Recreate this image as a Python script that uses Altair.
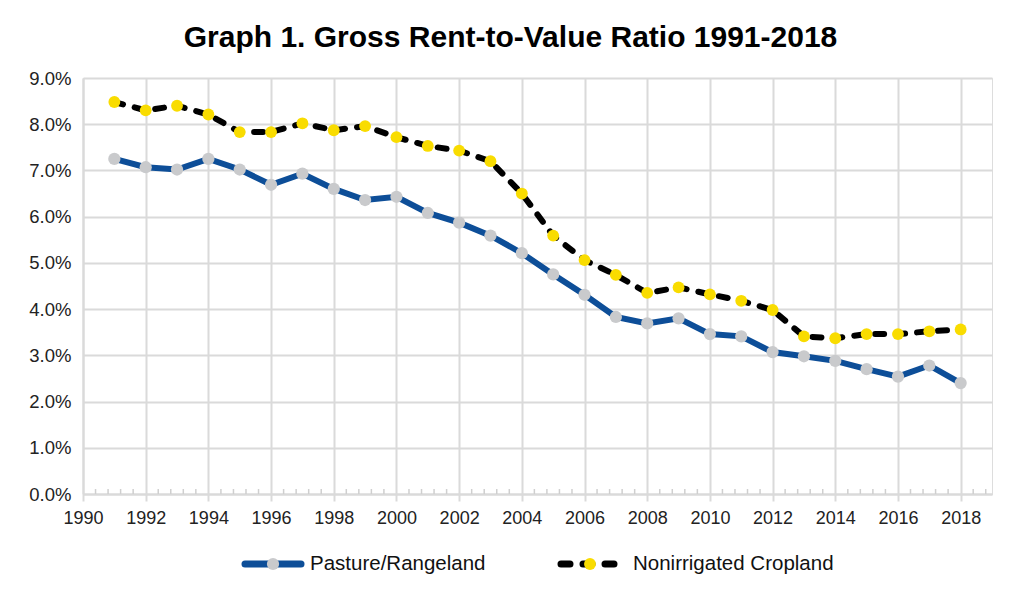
import altair as alt
import pandas as pd

# ---- data ----
years = list(range(1991, 2019))
pasture = [7.25, 7.07, 7.02, 7.25, 7.02, 6.69, 6.93, 6.60, 6.36, 6.43,
           6.08, 5.87, 5.59, 5.21, 4.75, 4.31, 3.83, 3.69, 3.80, 3.46,
           3.41, 3.07, 2.98, 2.88, 2.70, 2.54, 2.78, 2.40]
cropland = [8.48, 8.30, 8.40, 8.21, 7.83, 7.83, 8.02, 7.87, 7.96, 7.72,
            7.53, 7.43, 7.20, 6.50, 5.59, 5.06, 4.74, 4.35, 4.47, 4.32,
            4.18, 3.98, 3.41, 3.37, 3.46, 3.46, 3.52, 3.56]
series_names = ["Pasture/Rangeland", "Nonirrigated Cropland"]
x_ticks = list(range(1990, 2019, 2))
y_ticks = [0, 1, 2, 3, 4, 5, 6, 7, 8, 9]
minor_x = [1990 + 0.4 * i for i in range(73) if i % 5 != 0]

# ---- styles ----
BLUE = "#0d4e98"
GRAY_PT = "#c9cacc"
YELLOW = "#f9dc00"
GRID = "#dadada"
FONT = "Liberation Sans"
W, H = 909, 416

df = pd.DataFrame({
    "year": years * 2,
    "value": [v / 100 for v in pasture + cropland],
    "series": [series_names[0]] * len(years) + [series_names[1]] * len(years),
})
minor_df = pd.DataFrame({"year": minor_x})

x_scale = alt.Scale(domain=[1990, 2019], nice=False, zero=False)
y_scale = alt.Scale(domain=[0, 0.09], nice=False)

x_enc = alt.X("year:Q", scale=x_scale, title=None,
              axis=alt.Axis(values=x_ticks, format="d", grid=True, gridColor=GRID,
                            gridWidth=2, domainColor=GRID, domainWidth=2,
                            tickColor=GRID, tickWidth=2, tickSize=7,
                            labelPadding=8, labelFontSize=18, labelColor="#222",
                            labelFont=FONT, labelFlush=False))
y_enc = alt.Y("value:Q", scale=y_scale, title=None,
              axis=alt.Axis(values=[t / 100 for t in y_ticks], format=".1%",
                            grid=True, gridColor=GRID, gridWidth=2,
                            domainColor=GRID, domainWidth=2, ticks=False,
                            labelPadding=12, labelFontSize=18.5, labelColor="#222",
                            labelFont=FONT))

base = alt.Chart(df)

grid_layer = base.mark_line(opacity=0).encode(x=x_enc, y=y_enc)

minor = alt.Chart(minor_df).mark_rule(color="#cfcfcf", strokeWidth=1.5).encode(
    x=alt.X("year:Q", scale=x_scale),
    y=alt.value(H - 5), y2=alt.value(H))

p_df = base.transform_filter(alt.datum.series == series_names[0])
c_df = base.transform_filter(alt.datum.series == series_names[1])

p_line = p_df.mark_line(color=BLUE, strokeWidth=6).encode(
    x=alt.X("year:Q", scale=x_scale), y=alt.Y("value:Q", scale=y_scale))
p_pts = p_df.mark_circle(color=GRAY_PT, size=150, opacity=1).encode(
    x=alt.X("year:Q", scale=x_scale), y=alt.Y("value:Q", scale=y_scale))
c_line = c_df.mark_line(color="black", strokeWidth=6, strokeDash=[9, 12],
                        strokeCap="round").encode(
    x=alt.X("year:Q", scale=x_scale), y=alt.Y("value:Q", scale=y_scale))
c_pts = c_df.mark_circle(color=YELLOW, size=140, opacity=1).encode(
    x=alt.X("year:Q", scale=x_scale), y=alt.Y("value:Q", scale=y_scale))

# ---- manual legend below the plot ----
LY = H + 70
one = alt.Data(values=[{"k": 0}])
leg = [
    alt.Chart(one).mark_rule(color=BLUE, strokeWidth=7, strokeCap="round").encode(
        x=alt.value(162), x2=alt.value(218), y=alt.value(LY)),
    alt.Chart(one).mark_circle(color=GRAY_PT, size=150, opacity=1).encode(
        x=alt.value(190), y=alt.value(LY)),
    alt.Chart(one).mark_text(align="left", baseline="middle", fontSize=20.5,
                             font=FONT, color="#111").encode(
        x=alt.value(227), y=alt.value(LY), text=alt.value(series_names[0])),
    alt.Chart(one).mark_rule(color="black", strokeWidth=7, strokeDash=[9, 13],
                             strokeCap="round").encode(
        x=alt.value(478), x2=alt.value(538), y=alt.value(LY)),
    alt.Chart(one).mark_circle(color=YELLOW, size=140, opacity=1).encode(
        x=alt.value(507), y=alt.value(LY)),
    alt.Chart(one).mark_text(align="left", baseline="middle", fontSize=20.5,
                             font=FONT, color="#111").encode(
        x=alt.value(550), y=alt.value(LY), text=alt.value(series_names[1])),
]

chart = alt.layer(grid_layer, minor, p_line, c_line, p_pts, c_pts, *leg).properties(
    width=W, height=H,
    title=alt.TitleParams("Graph 1. Gross Rent-to-Value Ratio 1991-2018",
                          font=FONT, fontSize=30, fontWeight="bold", color="#000",
                          anchor="middle", dx=-27, offset=16),
    autosize=alt.AutoSizeParams(type="none"),
    padding={"left": 75, "top": 70, "right": 24, "bottom": 100},
).configure_view(stroke=None).configure(background="white")

chart.save("out.html", embed_options={"renderer": "svg", "actions": False})
